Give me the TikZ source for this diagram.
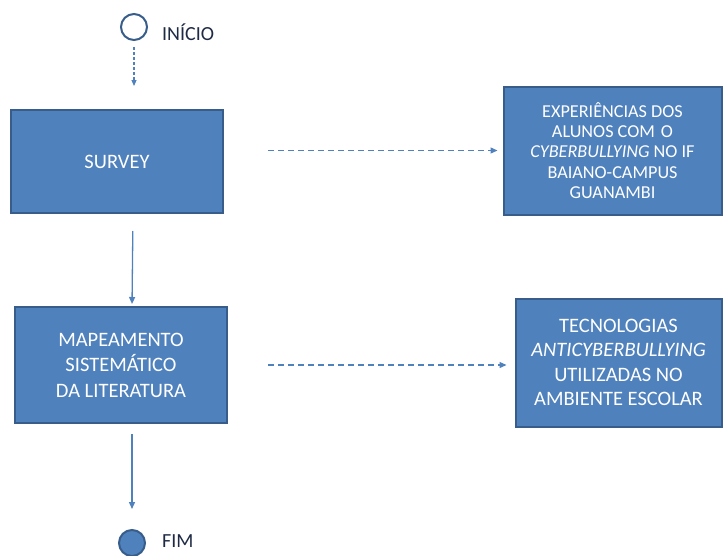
\documentclass[tikz,border=0pt]{standalone}
\usepackage{fontspec}
\setmainfont{Carlito}
\usetikzlibrary{arrows.meta,calc}
\definecolor{boxfill}{HTML}{4F81BD}
\definecolor{boxline}{HTML}{385D8A}
\definecolor{lbl}{HTML}{1F2A44}
\tikzset{
  stepbox/.style={draw=boxline, line width=2pt, fill=boxfill, text=white, align=center,
    inner sep=0pt, font=\fontsize{20.5}{25.5}\selectfont},
  conn/.style={draw=boxfill, line width=1.3pt, -{Triangle[length=7pt,width=6pt]}},
  dconn/.style={conn, dash pattern=on 6pt off 4pt},
  sdconn/.style={conn, line width=1.1pt, dash pattern=on 3pt off 2pt, -{Triangle[length=6pt,width=5pt]}},
  lab/.style={text=lbl, anchor=west, inner sep=0pt, font=\fontsize{20}{23}\selectfont}
}
\begin{document}
\begin{tikzpicture}[x=1pt,y=-1pt]
\useasboundingbox (0,0) rectangle (723,555);
% start / end
\node[circle, draw=boxline, line width=2pt, fill=white, minimum size=26pt, inner sep=0pt] (start) at (134,27) {};
\node[lab] (startlab) at (162,32) {INÍCIO};
\node[circle, draw=boxline, line width=2pt, fill=boxfill, minimum size=26pt, inner sep=0pt] (fim) at (132,543) {};
\node[lab] (fimlab) at (162,541) {FIM};
% boxes
\node[stepbox, minimum width=212pt, minimum height=103pt] (survey) at (117,161.5) {SURVEY};
\node[stepbox, minimum width=212pt, minimum height=116pt] (map) at (121,365) {MAPEAMENTO\\SISTEMÁTICO\\DA LITERATURA};
\node[stepbox, minimum width=218pt, minimum height=128pt, font=\fontsize{18.2}{20.3}\selectfont] (r1) at (612.5,150.5)
  {EXPERIÊNCIAS DOS\\ALUNOS COM\,\,O\\\textit{CYBERBULLYING} NO IF\\BAIANO-CAMPUS\\GUANAMBI};
\node[stepbox, minimum width=206pt, minimum height=128pt, font=\fontsize{20.5}{24.4}\selectfont] (r2) at (618.5,362.5)
  {TECNOLOGIAS\\\textit{ANTICYBERBULLYING}\\UTILIZADAS NO\\AMBIENTE ESCOLAR};
% connectors
\draw[sdconn, shorten <=6pt, shorten >=23pt] (start.south) -- (start.south |- survey.north);
\draw[conn, shorten <=17pt, shorten >=2pt] (survey.south -| fim.north) ++(1,0) -- (map.north -| fim.north);
\draw[conn, shorten <=10pt, shorten >=20pt] (map.south -| fim.north) -- (fim.north);
\draw[dconn, shorten <=44pt, shorten >=5pt] (survey.east |- r1.west) -- (r1.west);
\draw[dconn, shorten <=40pt, shorten >=8pt] (map.east) -- (map.east -| r2.west);
\end{tikzpicture}
\end{document}
